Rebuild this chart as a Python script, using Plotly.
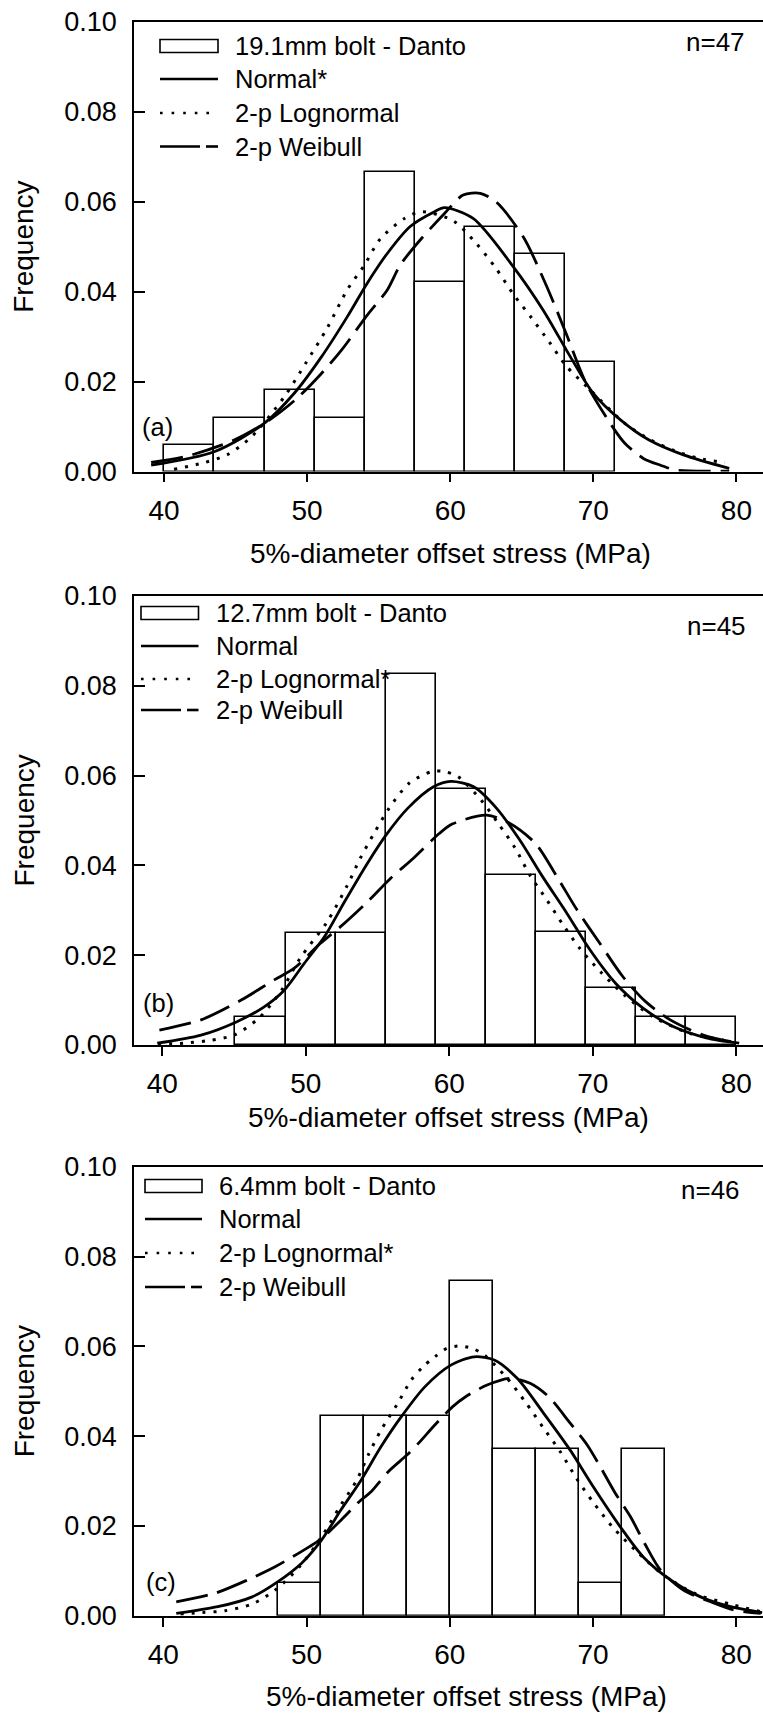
import plotly.graph_objects as go

W, H = 763, 1714
FONT = "Liberation Sans, Arial, Helvetica, sans-serif"

# ---------------- data ----------------
x_tick_vals = [40, 50, 60, 70, 80]
y_tick_vals = [0.00, 0.02, 0.04, 0.06, 0.08, 0.10]

# Panel (a): 19.1 mm bolt
a_edges = [40.0, 43.5, 47.03, 50.57, 54.05, 57.57, 61.0, 64.55, 68.05, 71.54]
a_freq = [0.0059, 0.0120, 0.0181, 0.0120, 0.0667, 0.0421, 0.0545, 0.0483, 0.0244]
a_norm_x = [39.1, 43.5, 47.0, 49.1, 51.0, 52.8, 54.2, 55.6, 57.2, 58.9, 59.6, 61.6, 64.4, 66.5, 68.4, 70.0, 71.9, 73.9, 76.3, 79.5]
a_norm_y = [0.0014, 0.0044, 0.0107, 0.0174, 0.0255, 0.0344, 0.0419, 0.0485, 0.0545, 0.0578, 0.0587, 0.0563, 0.0456, 0.0359, 0.0255, 0.0174, 0.0115, 0.0070, 0.0037, 0.0007]
a_logn_x = [40.7, 42.6, 44.4, 46.1, 48.4, 49.9, 51.4, 52.8, 54.0, 55.1, 56.8, 58.0, 60.2, 61.8, 63.2, 64.4, 65.7, 66.9, 68.1, 69.8, 72.2, 73.9, 75.7, 77.4, 79.2]
a_logn_y = [0.0005, 0.0018, 0.0037, 0.0077, 0.0166, 0.0241, 0.0319, 0.0404, 0.0459, 0.0517, 0.0563, 0.0578, 0.0558, 0.0508, 0.0452, 0.0395, 0.0341, 0.0289, 0.0235, 0.0181, 0.0107, 0.0072, 0.0046, 0.0029, 0.0020]
a_weib_x = [39.1, 41.6, 44.9, 47.2, 49.3, 51.0, 52.4, 54.2, 55.6, 56.5, 57.9, 59.6, 60.9, 62.1, 63.2, 65.1, 66.7, 68.1, 69.5, 71.5, 72.2, 73.5, 74.7, 75.8, 79.5]
a_weib_y = [0.0020, 0.0034, 0.0070, 0.0111, 0.0163, 0.0218, 0.0270, 0.0348, 0.0404, 0.0459, 0.0515, 0.0574, 0.0615, 0.0619, 0.0600, 0.0522, 0.0415, 0.0307, 0.0196, 0.0092, 0.0063, 0.0029, 0.0014, 0.0003, 0.0001]

# Panel (b): 12.7 mm bolt
b_edges = [45.1, 48.6, 52.08, 55.57, 59.1, 62.58, 66.02, 69.5, 72.99, 76.47, 80.0]
b_freq = [0.0063, 0.0250, 0.0250, 0.0827, 0.0570, 0.0379, 0.0251, 0.0126, 0.0063, 0.0063]
b_norm_x = [39.65, 42.7, 45.2, 47.1, 48.5, 49.9, 51.3, 52.7, 54.3, 55.6, 57.1, 58.9, 60.1, 61.7, 63.3, 64.9, 66.5, 68.2, 69.8, 71.6, 73.5, 75.6, 77.9, 80.2]
b_norm_y = [0.0004, 0.0022, 0.0052, 0.0085, 0.0122, 0.0182, 0.0241, 0.0319, 0.0405, 0.0468, 0.0527, 0.0575, 0.0587, 0.0575, 0.0527, 0.0457, 0.0375, 0.0293, 0.0212, 0.0137, 0.0082, 0.0041, 0.0016, 0.0004]
b_logn_x = [39.7, 41.5, 43.25, 45.0, 46.7, 48.25, 49.6, 51.5, 52.9, 53.8, 54.75, 55.8, 57.2, 58.8, 59.65, 60.6, 62.2, 63.4, 64.6, 65.6, 66.8, 67.9, 69.1, 70.6, 72.2, 74.2, 76.75, 79.1]
b_logn_y = [0.0002, 0.0004, 0.0010, 0.0022, 0.0059, 0.0119, 0.0193, 0.0275, 0.0356, 0.0416, 0.0471, 0.0527, 0.0583, 0.0609, 0.0609, 0.0598, 0.0546, 0.0494, 0.0438, 0.0379, 0.0323, 0.0269, 0.0215, 0.0161, 0.0111, 0.0063, 0.0026, 0.0011]
b_weib_x = [39.8, 42.7, 45.5, 47.8, 49.2, 51.0, 52.4, 54.3, 55.9, 57.5, 59.3, 60.2, 62.6, 64.2, 66.0, 67.5, 68.9, 70.5, 72.1, 73.7, 75.4, 77.7, 80.0]
b_weib_y = [0.0033, 0.0056, 0.0100, 0.0145, 0.0171, 0.0226, 0.0263, 0.0319, 0.0371, 0.0416, 0.0471, 0.0492, 0.0512, 0.0494, 0.0449, 0.0375, 0.0301, 0.0226, 0.0152, 0.0096, 0.0056, 0.0022, 0.0005]

# Panel (c): 6.4 mm bolt
c_edges = [48.0, 51.0, 54.0, 57.0, 60.0, 63.0, 66.0, 69.0, 72.0, 75.0]
c_freq = [0.0074, 0.0445, 0.0445, 0.0445, 0.0745, 0.0371, 0.0371, 0.0074, 0.0371]
c_norm_x = [40.9, 43.8, 46.2, 48.0, 49.65, 51.05, 52.4, 53.8, 55.2, 56.6, 58.25, 60.1, 61.7, 63.1, 64.7, 66.55, 68.4, 70.0, 71.9, 73.5, 75.4, 77.5, 79.6, 81.8]
c_norm_y = [0.0005, 0.0020, 0.0042, 0.0076, 0.0117, 0.0169, 0.0236, 0.0302, 0.0377, 0.0443, 0.0510, 0.0559, 0.0577, 0.0570, 0.0529, 0.0451, 0.0369, 0.0288, 0.0198, 0.0131, 0.0080, 0.0042, 0.0020, 0.0007]
c_logn_x = [41.2, 42.7, 44.3, 46.2, 47.8, 49.5, 51.05, 52.4, 53.5, 54.3, 55.2, 56.3, 57.3, 58.1, 58.95, 59.8, 60.6, 61.55, 62.4, 64.0, 65.3, 66.5, 67.7, 68.8, 70.0, 71.4, 73.05, 74.9, 77.2, 79.8, 81.7]
c_logn_y = [0.0004, 0.0007, 0.0011, 0.0026, 0.0057, 0.0109, 0.0176, 0.0247, 0.0302, 0.0358, 0.0414, 0.0470, 0.0525, 0.0554, 0.0577, 0.0596, 0.0601, 0.0596, 0.0581, 0.0529, 0.0475, 0.0420, 0.0366, 0.0308, 0.0253, 0.0196, 0.0143, 0.0091, 0.0048, 0.0024, 0.0009]
c_weib_x = [40.9, 43.6, 45.9, 47.8, 50.2, 51.05, 52.4, 53.8, 54.5, 55.7, 57.0, 57.8, 58.95, 60.2, 61.1, 62.6, 64.2, 65.6, 66.9, 68.4, 69.6, 70.5, 71.55, 72.6, 73.6, 74.7, 76.3, 78.2, 79.8, 81.7]
c_weib_y = [0.0031, 0.0050, 0.0080, 0.0109, 0.0154, 0.0172, 0.0213, 0.0258, 0.0276, 0.0321, 0.0358, 0.0384, 0.0425, 0.0466, 0.0488, 0.0514, 0.0529, 0.0518, 0.0488, 0.0429, 0.0380, 0.0332, 0.0273, 0.0221, 0.0161, 0.0102, 0.0057, 0.0031, 0.0013, 0.0005]

hist_names = ["19.1mm bolt - Danto", "12.7mm bolt - Danto", "6.4mm bolt - Danto"]
normal_names = ["Normal*", "Normal", "Normal"]
logn_names = ["2-p Lognormal", "2-p Lognormal*", "2-p Lognormal*"]
weib_names = ["2-p Weibull", "2-p Weibull", "2-p Weibull"]
n_labels = ["n=47", "n=45", "n=46"]
panel_labels = ["(a)", "(b)", "(c)"]
x_title = "5%-diameter offset stress (MPa)"
y_title = "Frequency"

panels = [
    dict(edges=a_edges, freq=a_freq, nx=a_norm_x, ny=a_norm_y, lx=a_logn_x, ly=a_logn_y, wx=a_weib_x, wy=a_weib_y),
    dict(edges=b_edges, freq=b_freq, nx=b_norm_x, ny=b_norm_y, lx=b_logn_x, ly=b_logn_y, wx=b_weib_x, wy=b_weib_y),
    dict(edges=c_edges, freq=c_freq, nx=c_norm_x, ny=c_norm_y, lx=c_logn_x, ly=c_logn_y, wx=c_weib_x, wy=c_weib_y),
]

# ---------------- layout geometry (pixels) ----------------
def PX(px):
    return px / W

def PY(py):
    return 1 - py / H

plot_left = 134
plot_tops = [22, 596, 1167]
plot_bottoms = [471.5, 1045, 1615.7]
x_ranges = [[37.9, 81.86], [38.03, 81.86], [37.95, 81.86]]

CURVE_W = 2.8
DOT = "3px,8px"
DASH = "32px,10px"

fig = go.Figure()

for i, p in enumerate(panels):
    xa = "x" if i == 0 else f"x{i+1}"
    ya = "y" if i == 0 else f"y{i+1}"
    edges = p["edges"]
    centers = [(edges[k] + edges[k + 1]) / 2 for k in range(len(p["freq"]))]
    widths = [edges[k + 1] - edges[k] for k in range(len(p["freq"]))]
    fig.add_trace(go.Bar(x=centers, y=p["freq"], width=widths, xaxis=xa, yaxis=ya,
                         marker=dict(color="white", line=dict(color="black", width=1.6)),
                         name=hist_names[i], showlegend=False))
    fig.add_trace(go.Scatter(x=p["nx"], y=p["ny"], mode="lines", xaxis=xa, yaxis=ya,
                             line=dict(color="black", width=CURVE_W, shape="spline", smoothing=0.8),
                             name=normal_names[i], showlegend=False))
    fig.add_trace(go.Scatter(x=p["lx"], y=p["ly"], mode="lines", xaxis=xa, yaxis=ya,
                             line=dict(color="black", width=3, dash=DOT, shape="spline", smoothing=0.8),
                             name=logn_names[i], showlegend=False))
    fig.add_trace(go.Scatter(x=p["wx"], y=p["wy"], mode="lines", xaxis=xa, yaxis=ya,
                             line=dict(color="black", width=CURVE_W, dash=DASH, shape="spline", smoothing=0.8),
                             name=weib_names[i], showlegend=False))

layout = dict(
    width=W, height=H,
    margin=dict(l=0, r=0, t=0, b=0),
    paper_bgcolor="white", plot_bgcolor="white",
    font=dict(family=FONT, color="black"),
    showlegend=False,
    bargap=0,
)

for i in range(3):
    xkey = "xaxis" if i == 0 else f"xaxis{i+1}"
    ykey = "yaxis" if i == 0 else f"yaxis{i+1}"
    yanchor = "y" if i == 0 else f"y{i+1}"
    xanchor = "x" if i == 0 else f"x{i+1}"
    layout[xkey] = dict(
        domain=[PX(plot_left), 1.0], anchor=yanchor, range=x_ranges[i],
        showline=True, linecolor="black", linewidth=1.6, mirror=True,
        showgrid=False, zeroline=False,
        ticks="outside", ticklen=9, tickwidth=1.5, tickcolor="black",
        tickvals=x_tick_vals, tickfont=dict(size=28, family=FONT),
        ticklabelstandoff=4, automargin=False,
    )
    layout[ykey] = dict(
        domain=[PY(plot_bottoms[i]), PY(plot_tops[i])], anchor=xanchor, range=[0, 0.1],
        showline=True, linecolor="black", linewidth=1.6,
        showgrid=False, zeroline=False,
        ticks="inside", ticklen=11, tickwidth=1.5, tickcolor="black",
        tickvals=y_tick_vals, tickformat=".2f", tickfont=dict(size=27, family=FONT),
        ticklabelstandoff=10, automargin=False,
    )

fig.update_layout(**layout)

annotations = []
shapes = []

# axis titles
x_title_pos = [(450, 553), (449, 1117), (466, 1696)]
for i in range(3):
    cx, cy = x_title_pos[i]
    annotations.append(dict(text=x_title, x=PX(cx), y=PY(cy), xref="paper", yref="paper",
                            xanchor="center", yanchor="middle", showarrow=False,
                            font=dict(size=28, family=FONT)))
    mid = (plot_tops[i] + plot_bottoms[i]) / 2
    annotations.append(dict(text=y_title, x=PX(24), y=PY(mid), xref="paper", yref="paper",
                            xanchor="center", yanchor="middle", showarrow=False, textangle=-90,
                            font=dict(size=28, family=FONT)))

# manual legends
leg_sym = [(160, 218), (141, 198.5), (145, 202)]
leg_text_x = [233, 214, 216.5]
leg_rows = [[46, 79, 113, 146.5], [613, 646, 679, 710], [1186, 1219, 1253, 1287]]
n_pos = [(747, 42), (748, 626), (742, 1190)]
lab_pos = [(140, 426.5), (141, 1003), (143.5, 1582)]

for i in range(3):
    x0, x1 = leg_sym[i]
    r = leg_rows[i]
    shapes.append(dict(type="rect", xref="paper", yref="paper",
                       x0=PX(x0), x1=PX(x1), y0=PY(r[0] - 6.5), y1=PY(r[0] + 6.5),
                       line=dict(color="black", width=1.6), fillcolor="white"))
    shapes.append(dict(type="line", xref="paper", yref="paper",
                       x0=PX(x0), x1=PX(x1), y0=PY(r[1]), y1=PY(r[1]),
                       line=dict(color="black", width=2.6)))
    shapes.append(dict(type="line", xref="paper", yref="paper",
                       x0=PX(x0), x1=PX(x0 + 50), y0=PY(r[2]), y1=PY(r[2]),
                       line=dict(color="black", width=2.6, dash="2.6px,9px")))
    shapes.append(dict(type="line", xref="paper", yref="paper",
                       x0=PX(x0), x1=PX(x0 + 40), y0=PY(r[3]), y1=PY(r[3]),
                       line=dict(color="black", width=2.6)))
    shapes.append(dict(type="line", xref="paper", yref="paper",
                       x0=PX(x0 + 46), x1=PX(x1), y0=PY(r[3]), y1=PY(r[3]),
                       line=dict(color="black", width=2.6)))
    texts = [hist_names[i], normal_names[i], logn_names[i], weib_names[i]]
    for t, ry in zip(texts, r):
        annotations.append(dict(text=t, x=PX(leg_text_x[i]), y=PY(ry), xref="paper", yref="paper",
                                xanchor="left", yanchor="middle", showarrow=False,
                                font=dict(size=25.5, family=FONT)))
    nx_, ny_ = n_pos[i]
    annotations.append(dict(text=n_labels[i], x=PX(nx_), y=PY(ny_), xref="paper", yref="paper",
                            xanchor="right", yanchor="middle", showarrow=False,
                            font=dict(size=26, family=FONT)))
    lx_, ly_ = lab_pos[i]
    annotations.append(dict(text=panel_labels[i], x=PX(lx_), y=PY(ly_), xref="paper", yref="paper",
                            xanchor="left", yanchor="middle", showarrow=False,
                            font=dict(size=25.5, family=FONT)))

fig.update_layout(annotations=annotations, shapes=shapes)

fig.write_html("out.html",
               config={"displayModeBar": False},
               post_script="document.body.style.margin='0';document.body.style.overflow='hidden';")
